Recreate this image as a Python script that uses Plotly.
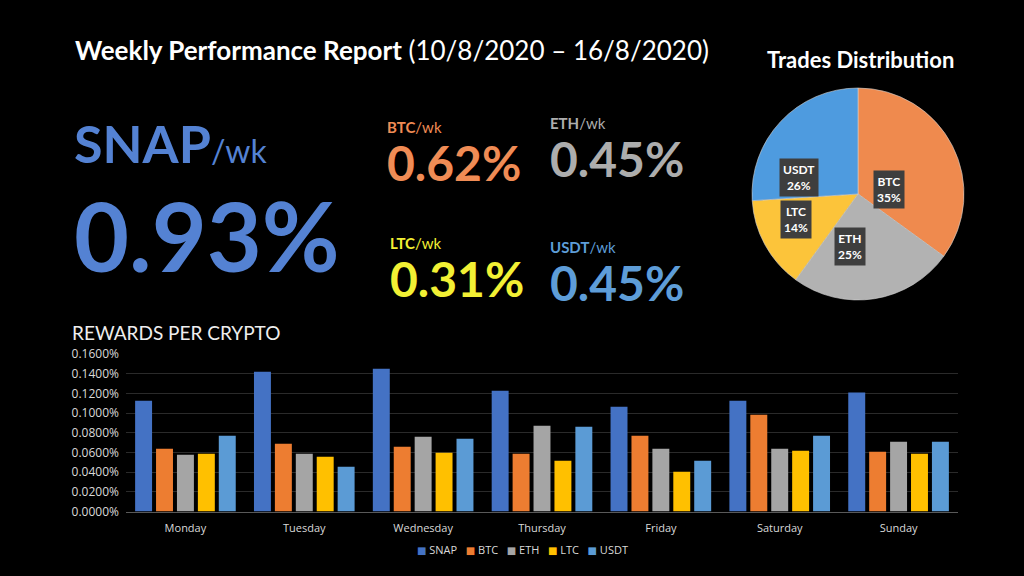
import math
import plotly.graph_objects as go

W, H = 1024, 576

days = ["Monday", "Tuesday", "Wednesday", "Thursday", "Friday", "Saturday", "Sunday"]
snap = [0.1125, 0.1420, 0.1450, 0.1227, 0.1064, 0.1125, 0.1210]
btc = [0.0637, 0.0688, 0.0657, 0.0586, 0.0769, 0.0983, 0.0606]
eth = [0.0576, 0.0586, 0.0759, 0.0871, 0.0637, 0.0637, 0.0708]
ltc = [0.0586, 0.0555, 0.0596, 0.0515, 0.0403, 0.0616, 0.0586]
usdt = [0.0769, 0.0454, 0.0738, 0.0860, 0.0515, 0.0769, 0.0708]

pie_labels = ["BTC", "ETH", "LTC", "USDT"]
pie_values = [35, 25, 14, 26]

weekly_names = ["BTC", "ETH", "LTC", "USDT"]
weekly_values = ["0.62%", "0.45%", "0.31%", "0.45%"]
snap_weekly = "0.93%"

bar_colors = {"SNAP": "#4472C4", "BTC": "#ED7D31", "ETH": "#A5A5A5", "LTC": "#FFC000", "USDT": "#5B9BD5"}
pie_colors = ["#EF8A4E", "#B2B2B2", "#FCC43A", "#4E9BDF"]
text_colors = {"BTC": "#F08C55", "ETH": "#ADADAD", "LTC": "#F2F034", "USDT": "#5E9DD8"}
snap_color = "#5482D3"

FONT = "Lato"
TICKFONT = "Open Sans"


def px(x):
    return x / W


def py(y):
    return 1 - y / H


fig = go.Figure()

series = [("SNAP", snap), ("BTC", btc), ("ETH", eth), ("LTC", ltc), ("USDT", usdt)]
for name, vals in series:
    fig.add_trace(go.Bar(
        x=days, y=[v / 100 for v in vals], name=name,
        marker=dict(color=bar_colors[name], line=dict(width=0)),
        xaxis="x", yaxis="y",
    ))

# pie geometry (layout)
pcx, pcy, pr = 858, 194, 106
fig.add_trace(go.Pie(
    labels=pie_labels, values=pie_values, sort=False, direction="clockwise",
    rotation=0, textinfo="none", showlegend=False,
    marker=dict(colors=pie_colors, line=dict(color="#d0d0d0", width=0.6)),
    domain=dict(x=[px(pcx - pr), px(pcx + pr)], y=[py(pcy + pr), py(pcy - pr)]),
))

annotations = []
# pie labels placed at half radius of each slice mid-angle
total = sum(pie_values)
cum = 0
for lab, val in zip(pie_labels, pie_values):
    mid = (cum + val / 2) / total * 2 * math.pi
    cum += val
    lx = pcx + 0.5 * pr * math.sin(mid)
    ly = pcy - 0.5 * pr * math.cos(mid)
    annotations.append(dict(
        x=px(lx), y=py(ly), xref="paper", yref="paper", showarrow=False,
        text=f"<b>{lab}<br>{round(val / total * 100)}%</b>",
        font=dict(family=FONT, size=12, color="white"),
        bgcolor="#3e3e3e", borderpad=3, align="center",
    ))

# titles
annotations.append(dict(
    x=px(73), y=py(50), xref="paper", yref="paper", showarrow=False,
    xanchor="left", yanchor="middle",
    text="<b>Weekly Performance Report</b> (10/8/2020 – 16/8/2020)",
    font=dict(family=FONT, size=26, color="white"),
))
annotations.append(dict(
    x=px(860), y=py(60), xref="paper", yref="paper", showarrow=False,
    xanchor="center", yanchor="middle",
    text="<b>Trades Distribution</b>",
    font=dict(family=FONT, size=22, color="white"),
))
annotations.append(dict(
    x=px(70), y=py(332), xref="paper", yref="paper", showarrow=False,
    xanchor="left", yanchor="middle",
    text="REWARDS PER CRYPTO",
    font=dict(family=FONT, size=19, color="#eeeeee"),
))

# SNAP block
annotations.append(dict(
    x=px(72), y=py(143), xref="paper", yref="paper", showarrow=False,
    xanchor="left", yanchor="middle",
    text="<b>SNAP</b><span style='font-size:32px'>/wk</span>",
    font=dict(family=FONT, size=52, color=snap_color),
))
annotations.append(dict(
    x=px(72), y=py(235), xref="paper", yref="paper", showarrow=False,
    xanchor="left", yanchor="middle",
    text="<b>" + snap_weekly + "</b>",
    font=dict(family=FONT, size=95, color=snap_color),
))

# small blocks: label line + value line in one text block (left x, block centre y)
small_pos = {"BTC": (385, 154), "ETH": (548, 150), "LTC": (388, 270), "USDT": (548, 274)}
for name, val in zip(weekly_names, weekly_values):
    x0, yc = small_pos[name]
    annotations.append(dict(
        x=px(x0), y=py(yc), xref="paper", yref="paper", showarrow=False,
        xanchor="left", yanchor="middle", align="left",
        text=(f"<span style='font-size:15px'><b>{name}</b>/wk</span><br>"
              f"<span style='font-size:48px'><b>{val}</b></span>"),
        font=dict(family=FONT, size=37, color=text_colors[name]),
    ))

# compact legend row built from the series names and colours
legend_text = "&nbsp;&nbsp;&nbsp;".join(
    f"<span style='color:{bar_colors[n]};font-family:DejaVu Sans;font-size:10px'>■</span>&nbsp;{n}"
    for n, _ in series
)
annotations.append(dict(
    x=px(522), y=py(549), xref="paper", yref="paper", showarrow=False,
    xanchor="center", yanchor="middle", text=legend_text,
    font=dict(family=TICKFONT, size=11, color="#d9d9d9"),
))

fig.update_layout(
    width=W, height=H,
    margin=dict(l=0, r=0, t=0, b=0, autoexpand=False),
    paper_bgcolor="black", plot_bgcolor="black",
    barmode="group", bargap=0.12, bargroupgap=0.19,
    font=dict(family=TICKFONT, color="#d9d9d9", size=11),
    xaxis=dict(domain=[px(126), px(958)], showgrid=False, showline=True,
               linecolor="#595959", linewidth=1, ticks="", ticklabelstandoff=6,
               automargin=False,
               tickfont=dict(family=TICKFONT, size=11, color="#d9d9d9")),
    yaxis=dict(domain=[py(511.5), py(354)], range=[0, 0.0016], dtick=0.0002,
               tickformat=".4%", showgrid=True, gridcolor="#2a2a2a", gridwidth=1,
               zeroline=False, showline=False, ticks="", ticklabelstandoff=6,
               automargin=False,
               tickfont=dict(family=TICKFONT, size=12, color="#d9d9d9")),
    showlegend=False,
    annotations=annotations,
)

fig.write_html("out.html")
